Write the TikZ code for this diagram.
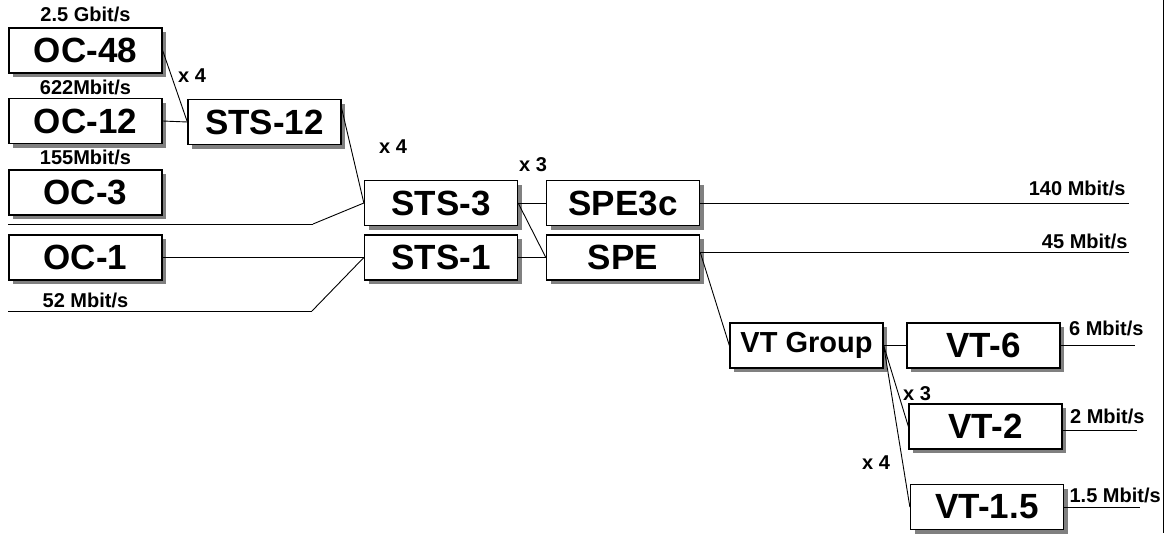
\documentclass[tikz,border=0pt]{standalone}
\usepackage{fontspec}
\setmainfont{Liberation Sans}
\usetikzlibrary{positioning,shadows}

\begin{document}
\begin{tikzpicture}[x=1pt, y=-1pt, line width=0.9pt,
	every node/.style={font=\bfseries\fontsize{20}{24}\selectfont, inner sep=0pt},
	box/.style={draw, line width=1.3pt, fill=white, minimum width=153pt, minimum height=45pt,
		font=\bfseries\fontsize{35}{40}\selectfont,
		drop shadow={shadow xshift=4pt, shadow yshift=-4pt, fill=black!50, opacity=1}}]
	\useasboundingbox (0,0) rectangle (1174,533);
	\foreach \n/\x/\y/\l in {oc48/85.5/50.5/OC-48, oc12/85.5/121/OC-12, oc3/85.5/192.5/OC-3, oc1/85.5/257.5/OC-1,
		sts12/264.5/122/STS-12, sts3/441/203/STS-3, sts1/441/257.5/STS-1,
		spe3c/623/203/SPE3c, spe/623/257.5/SPE,
		vt6/983.5/345.5/VT-6, vt2/985.5/426.5/VT-2, vt15/987/507/VT-1.5} {
		\node[box] (\n) at (\x,\y) {\l};
	}
	\node[box, font=\bfseries\fontsize{29}{34}\selectfont] (vtg) at (806.5,345.5) {VT Group};
	\coordinate (in3) at (8,224);
	\coordinate (k3) at (313,224);
	\coordinate (in1) at (8,311);
	\coordinate (k1) at (312,311);
	\coordinate (edge) at (1129,0);
	\coordinate (e140) at (spe3c.east -| edge);
	\coordinate (e45) at (spe.4 -| edge);
	\coordinate (e6) at (1135,345.5);
	\coordinate (e2) at (vt2.-3 -| 1137,0);
	\coordinate (e15) at (1140,507);
	\foreach \a/\b in {oc48.east/sts12.west, oc12.east/sts12.west, sts12.10/sts3.west, k3/sts3.west,
		oc1.east/sts1.west, k1/sts1.west, sts3.east/spe3c.west, sts3.east/spe.west, sts1.east/spe.west,
		spe3c.east/e140, spe.4/e45, spe.4/vtg.west, vtg.east/vt6.west, vtg.east/vt2.west, vtg.east/vt15.west,
		vt6.east/e6, vt2.-3/e2, vt15.east/e15} {
		\draw (\a) -- (\b);
	}
	\draw (in3) -- (k3);
	\draw (in1) -- (k1);
	\node[above=5pt of oc48] (r25) {2.5 Gbit/s};
	\node[above=3pt of oc12] (r622) {622Mbit/s};
	\node[above=4pt of oc3] (r155) {155Mbit/s};
	\node[below=12pt of oc1] (r52) {52 Mbit/s};
	\node[above left=7pt and 3pt of e140] (r140) {140 Mbit/s};
	\node[above left=3pt and 1pt of e45] (r45) {45 Mbit/s};
	\node[above right=9.5pt and 8pt of vt6.east] (r6) {6 Mbit/s};
	\node[above right=6.5pt and 7pt of vt2.-3] (r2) {2 Mbit/s};
	\node[above right=4pt and 5pt of vt15.east] (r15) {1.5 Mbit/s};
	\node (m1) at (192,76) {x 4};
	\node (m2) at (393,147) {x 4};
	\node (m3) at (533,165) {x 3};
	\node (m4) at (917,394) {x 3};
	\node (m5) at (876,463) {x 4};
	\draw (1163,0) -- (1163,533);
\end{tikzpicture}
\end{document}
